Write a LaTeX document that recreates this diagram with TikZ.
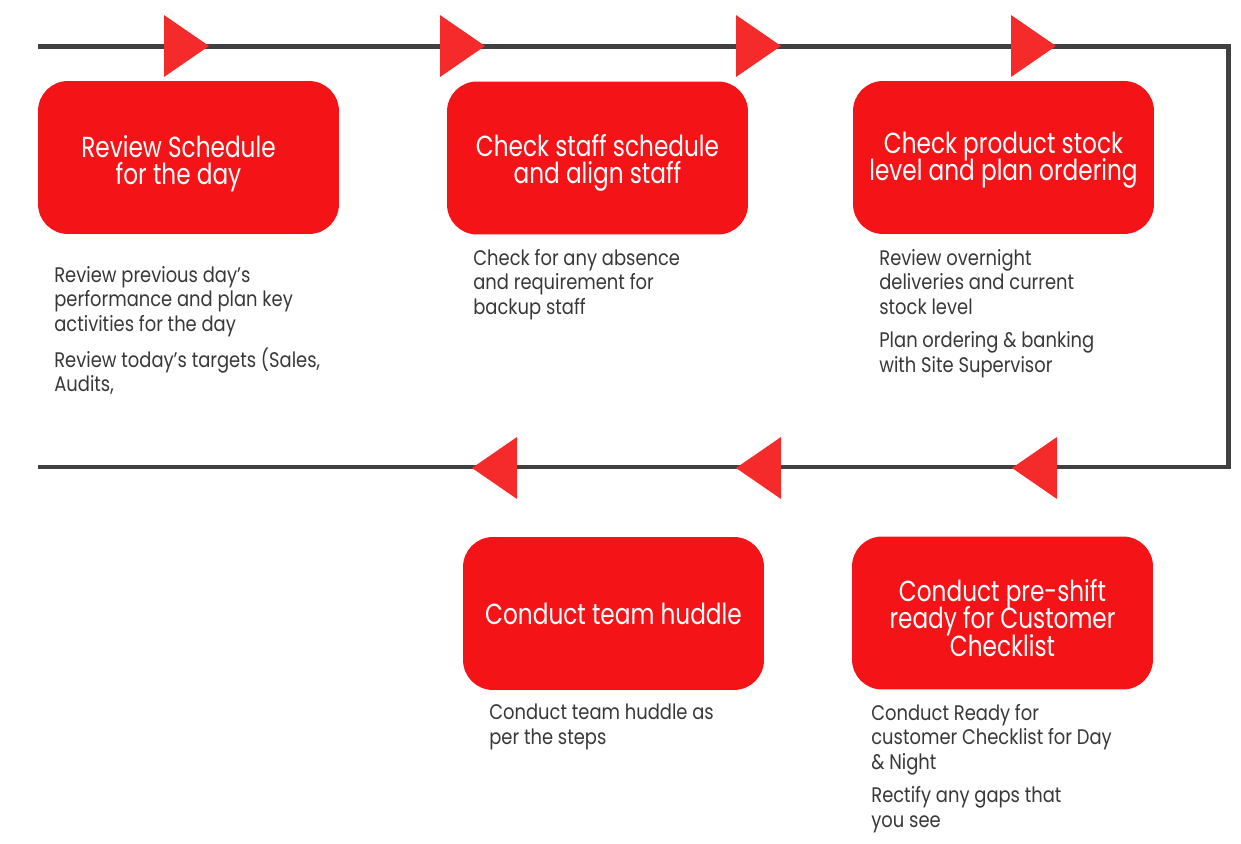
\documentclass[tikz,border=0pt]{standalone}
\usepackage{fontspec}
\setmainfont{Poppins}
\newfontfamily\boxfont[FakeStretch=0.8]{Poppins}
\newfontfamily\notefont[FakeStretch=0.85]{Poppins}
\newcommand\steptextfont{\boxfont\fontsize{16.5}{15.4}\selectfont\setlength{\lineskiplimit}{-20pt}}
\definecolor{stepred}{HTML}{F41418}
\definecolor{tipred}{HTML}{F52A2A}
\definecolor{loopgray}{HTML}{404040}
\definecolor{notegray}{HTML}{383838}

\begin{document}
\begin{tikzpicture}[x=0.02cm, y=-0.02cm]
    % Define styles
    \tikzset{
        stepbox/.style={
            fill=stepred,
            rounded corners=0.6cm,
            minimum width=6.02cm,
            minimum height=3.06cm
        },
        steptext/.style={
            text=white,
            align=center,
            inner sep=0pt,
            font=\steptextfont
        },
        note/.style={
            anchor=north west,
            align=left,
            inner sep=0pt,
            text=notegray,
            font=\notefont\fontsize{12}{13.9}\selectfont
        },
        loop/.style={
            draw=loopgray,
            line width=0.1cm
        },
        tip/.style={
            fill=tipred
        }
    }
    \useasboundingbox (0,0) rectangle (1241,844);

    % The loop
    \coordinate (loop start) at (38,47);
    \coordinate (loop ne) at (1228,47);
    \coordinate (loop se) at (1228,467);
    \coordinate (loop end) at (38,467);
    \draw[loop] (loop start) -- (loop ne) -- (loop se) -- (loop end);

    % Direction marks
    \foreach \x in {164,440,736,1011}
        \fill[tip] (\x,15) -- ({\x+45},46) -- (\x,77) -- cycle;
    \foreach \x in {472,736,1012}
        \fill[tip] (\x,468) -- ({\x+45},437) -- ({\x+45},499) -- cycle;

    % Steps
    \node[stepbox] (review) at (188.5,157.5) {};
    \node[stepbox] (staff) at (597.5,158) {};
    \node[stepbox] (stock) at (1003.5,157.5) {};
    \node[stepbox] (checklist) at (1002.5,613) {};
    \node[stepbox] (huddle) at (613.5,613.5) {};

    \node[steptext] (review text) at ([xshift=-0.2cm, yshift=-0.12cm]review) {Review Schedule\\for the day};
    \node[steptext] (staff text) at ([yshift=-0.1cm]staff) {Check staff schedule\\and align staff};
    \node[steptext] (stock text) at ([yshift=-0.05cm]stock) {Check product stock\\level and plan ordering};
    \node[steptext] (checklist text) at ([yshift=-0.1cm]checklist) {Conduct pre-shift\\ready for Customer\\Checklist};
    \node[steptext] (huddle text) at (huddle) {Conduct team huddle};

    % Notes
    \node[note] (review note) at (54,266) {Review previous day’s\\performance and plan key\\activities for the day\\[0.18cm]Review today’s targets (Sales,\\Audits,};
    \node[note] (staff note) at (473,249) {Check for any absence\\and requirement for\\backup staff};
    \node[note] (stock note) at (879,249) {Review overnight\\deliveries and current\\stock level\\[0.18cm]Plan ordering \& banking\\with Site Supervisor};
    \node[note] (checklist note) at (871,704) {Conduct Ready for\\customer Checklist for Day\\\& Night\\[0.18cm]Rectify any gaps that\\you see};
    \node[note] (huddle note) at (489,704) {Conduct team huddle as\\per the steps};

\end{tikzpicture}
\end{document}
